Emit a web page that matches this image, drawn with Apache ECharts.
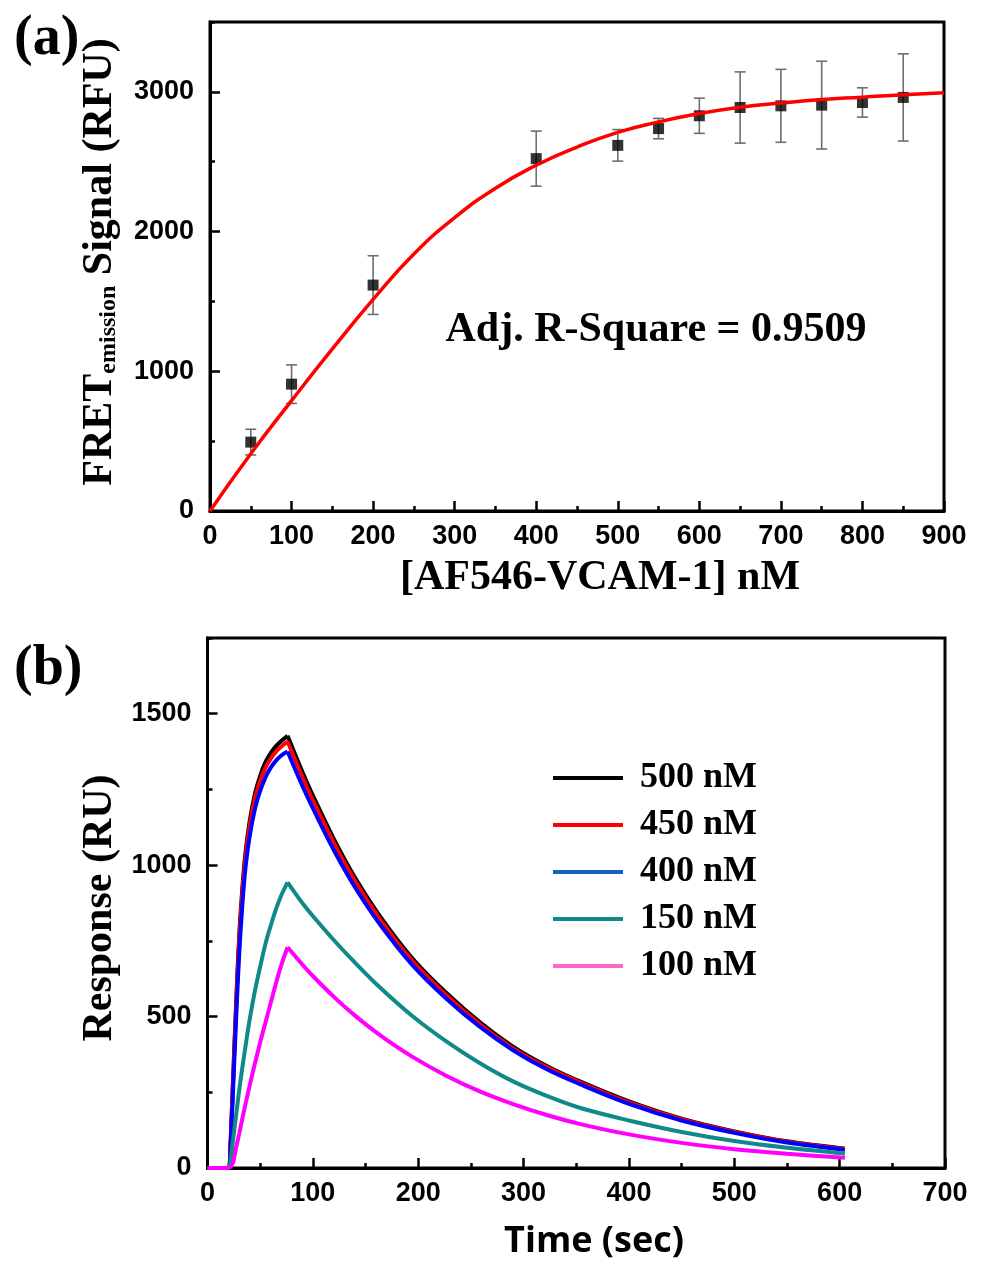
<!DOCTYPE html>
<html>
<head>
<meta charset="utf-8">
<script src="https://cdn.jsdelivr.net/npm/echarts@6/dist/echarts.min.js"></script>
<style>
  html, body { margin: 0; background: #fff; }
  #main { width: 984px; height: 1262px; }
</style>
</head>
<body>
<div id="main"></div>
<script>
// ---- panel (a): FRET titration ----
var concNM = [50, 100, 200, 400, 500, 550, 600, 650, 700, 750, 800, 850];
var fretMean = [493, 908, 1617, 2522, 2617, 2737, 2829, 2888, 2900, 2905, 2924, 2960];
var fretErr = [92, 138, 210, 197, 113, 73, 126, 255, 261, 314, 105, 312];
var fitX = [0, 50, 100, 150, 200, 250, 300, 350, 400, 450, 500, 550, 600, 650, 700, 750, 800, 850, 900];
var fitY = [0, 410, 790, 1160, 1515, 1840, 2100, 2310, 2475, 2605, 2710, 2785, 2845, 2890, 2920, 2945, 2962, 2980, 2994];

// ---- panel (b): SPR sensorgrams ----
var tRise = [0, 21, 24, 27, 30, 33, 36, 40, 45, 50, 55, 60, 65, 70, 76];
var tFall = [90, 100, 120, 140, 164, 195, 227, 259, 290, 322, 354, 400, 450, 500, 550, 605];
var timeSec = tRise.concat(tFall);
var r500 = [0, 0, 270, 530, 760, 920, 1040, 1145, 1235, 1295, 1340, 1370, 1393, 1410, 1427,
            1308, 1230, 1086, 959, 830, 690, 577, 480, 401, 337, 285, 220, 163, 121, 88, 64];
var r450 = [0, 0, 262, 518, 745, 905, 1025, 1130, 1220, 1278, 1322, 1352, 1375, 1392, 1408,
            1292, 1215, 1073, 948, 820, 682, 570, 474, 396, 333, 282, 217, 161, 119, 87, 63];
var r400 = [0, 0, 235, 480, 700, 865, 990, 1095, 1185, 1245, 1290, 1322, 1345, 1362, 1375,
            1262, 1188, 1049, 927, 803, 668, 558, 465, 389, 326, 276, 212, 157, 116, 84, 60];
var r150 = [0, 0, 85, 170, 255, 330, 400, 490, 585, 665, 740, 800, 855, 900, 943,
            875, 832, 752, 678, 595, 500, 417, 345, 286, 238, 198, 157, 119, 89, 67, 48];
var r100 = [0, 0, 15, 65, 112, 162, 210, 272, 345, 415, 480, 545, 610, 670, 729,
            672, 634, 565, 503, 438, 366, 304, 252, 211, 175, 145, 111, 83, 62, 47, 34];
var sprNames = ['500 nM', '450 nM', '400 nM', '150 nM', '100 nM'];
var sprColors = ['#000000', '#ff0000', '#0000ff', '#108a88', '#ff00ff'];
var legendColors = ['#000000', '#ff0000', '#1560bd', '#108a88', '#ff66cc'];

var serifBold = 'bold 42px "Liberation Serif", "Times New Roman", serif';
var tickFont = { color: '#000', fontFamily: '"Liberation Sans", Arial, sans-serif', fontWeight: 'bold', fontSize: 27 };

function axis(kind, grid, min, max, interval, major) {
    return {
        type: 'value', gridIndex: grid, min: min, max: max, interval: interval,
        position: kind === 'x' ? 'bottom' : 'left',
        axisLine: { show: major, lineStyle: { color: '#000', width: 3 } },
        axisTick: { show: true, inside: true, length: major ? 10 : 5, lineStyle: { color: '#000', width: 2.5 } },
        axisLabel: major ? Object.assign({
            margin: kind === 'x' ? 12 : 16,
            showMaxLabel: kind === 'x',
            formatter: function (v) { return String(v); }
        }, tickFont) : { show: false },
        splitLine: { show: false }
    };
}

// one curve is drawn in three parts (baseline, association, dissociation) so the peak stays sharp
function sprParts(vals, k) {
    var pts = timeSec.map(function (t, i) { return [t, vals[i]]; });
    var cut = tRise.length - 1;
    var parts = [pts.slice(0, 2), pts.slice(1, cut + 1), pts.slice(cut)];
    return parts.map(function (d, j) {
        return {
            name: sprNames[k], type: 'line', xAxisIndex: 2, yAxisIndex: 2,
            showSymbol: false, smooth: j === 0 ? false : 0.35,
            lineStyle: { color: sprColors[k], width: 4 },
            itemStyle: { color: sprColors[k] },
            data: d
        };
    });
}

var myChart = echarts.init(document.getElementById('main'));

var option = {
    animation: false,
    backgroundColor: '#fff',
    grid: [
        { left: 210, top: 22, width: 734, height: 489, show: true, borderColor: '#000', borderWidth: 3 },
        { left: 207.5, top: 638, width: 737.5, height: 530, show: true, borderColor: '#000', borderWidth: 3 }
    ],
    xAxis: [
        axis('x', 0, 0, 900, 100, true),
        axis('x', 0, 0, 900, 50, false),
        axis('x', 1, 0, 700, 100, true),
        axis('x', 1, 0, 700, 50, false)
    ],
    yAxis: [
        axis('y', 0, 0, 3500, 1000, true),
        axis('y', 0, 0, 3500, 500, false),
        axis('y', 1, 0, 1750, 500, true),
        axis('y', 1, 0, 1750, 250, false)
    ],
    legend: {
        orient: 'vertical', left: 548, top: 755,
        icon: 'rect', itemWidth: 70, itemHeight: 4, itemGap: 11,
        textStyle: { fontFamily: 'Liberation Serif', fontWeight: 'bold', fontSize: 36, lineHeight: 36, color: '#000', padding: [0, 0, 0, 12] },
        data: sprNames.map(function (n, i) { return { name: n, itemStyle: { color: legendColors[i] } }; })
    },
    graphic: [
        { type: 'text', left: 14, top: 12, style: { text: '(a)', font: 'bold 56px "Liberation Serif", serif', fill: '#000' } },
        { type: 'text', left: 14, top: 642, style: { text: '(b)', font: 'bold 56px "Liberation Serif", serif', fill: '#000' } },
        { type: 'text', x: 656, y: 330, style: { text: 'Adj. R-Square = 0.9509', font: 'bold 42px "Liberation Serif", serif', fill: '#000', align: 'center', verticalAlign: 'middle' } },
        { type: 'text', x: 600, y: 578, style: { text: '[AF546-VCAM-1] nM', font: serifBold, fill: '#000', align: 'center', verticalAlign: 'middle' } },
        { type: 'text', x: 594, y: 1242, style: { text: 'Time (sec)', font: 'bold 36px "Open Sans", Lato, sans-serif', fill: '#000', align: 'center', verticalAlign: 'middle' } },
        { type: 'text', x: 100, y: 908, rotation: Math.PI / 2, style: { text: 'Response (RU)', font: serifBold, fill: '#000', align: 'center', verticalAlign: 'middle' } },
        {
            type: 'text', x: 100, y: 262, rotation: Math.PI / 2,
            style: {
                text: '{a|FRET}{b|emission}{a| Signal (RFU)}',
                align: 'center', verticalAlign: 'middle',
                rich: {
                    a: { fontFamily: 'Liberation Serif', fontWeight: 'bold', fontSize: 42, lineHeight: 42, verticalAlign: 'top', color: '#000' },
                    b: { fontFamily: 'Liberation Serif', fontWeight: 'bold', fontSize: 24, lineHeight: 24, verticalAlign: 'bottom', padding: [24, 0, 0, 0], color: '#000' }
                }
            }
        }
    ],
    series: [
        {
            type: 'custom', xAxisIndex: 0, yAxisIndex: 0, z: 2,
            data: concNM.map(function (x, i) { return [x, fretMean[i] - fretErr[i], fretMean[i] + fretErr[i]]; }),
            encode: { x: 0, y: [1, 2] },
            renderItem: function (params, api) {
                var lo = api.coord([api.value(0), api.value(1)]);
                var hi = api.coord([api.value(0), api.value(2)]);
                var st = { stroke: '#6e6e6e', lineWidth: 1.6 };
                return {
                    type: 'group', children: [
                        { type: 'line', shape: { x1: lo[0], y1: lo[1], x2: hi[0], y2: hi[1] }, style: st },
                        { type: 'line', shape: { x1: lo[0] - 5.5, y1: lo[1], x2: lo[0] + 5.5, y2: lo[1] }, style: st },
                        { type: 'line', shape: { x1: hi[0] - 5.5, y1: hi[1], x2: hi[0] + 5.5, y2: hi[1] }, style: st }
                    ]
                };
            }
        },
        {
            type: 'scatter', xAxisIndex: 0, yAxisIndex: 0, z: 3,
            symbol: 'rect', symbolSize: 11, itemStyle: { color: '#000' },
            data: concNM.map(function (x, i) { return [x, fretMean[i]]; })
        },
        {
            type: 'line', xAxisIndex: 0, yAxisIndex: 0, z: 4,
            smooth: true, showSymbol: false,
            lineStyle: { color: '#ff0000', width: 3.5 },
            data: fitX.map(function (x, i) { return [x, fitY[i]]; })
        }
    ].concat(
        sprParts(r500, 0), sprParts(r450, 1), sprParts(r400, 2), sprParts(r150, 3), sprParts(r100, 4)
    )
};

myChart.setOption(option);
</script>
</body>
</html>
